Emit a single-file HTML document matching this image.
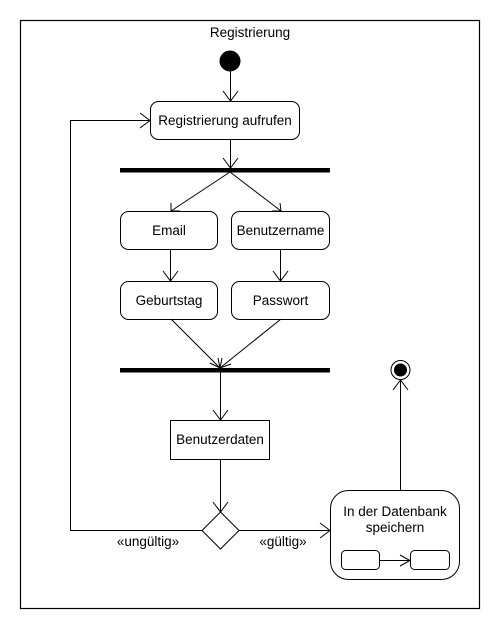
<!DOCTYPE html>
<html><head><meta charset="utf-8"><style>
html,body{margin:0;padding:0;background:#fff;}
svg{display:block;}
text{font-family:"Liberation Sans",sans-serif;font-size:13.5px;fill:#000;}
</style></head><body>
<svg width="500" height="630" viewBox="0 0 500 630" xmlns="http://www.w3.org/2000/svg">
<g fill="none" stroke="#000" stroke-width="1">
<rect x="20.5" y="20.5" width="459" height="588" stroke-width="1.2"/>
<circle cx="230" cy="61" r="10" fill="#000"/>
<line x1="230.5" y1="71" x2="230.5" y2="101"/>
<polyline points="223,91 230.5,101 238,91"/>
<rect x="150.5" y="101.5" width="149" height="38" rx="8"/>
<line x1="230.5" y1="140" x2="230.5" y2="168"/>
<polyline points="223,158 230.5,168 238,158"/>
<rect x="120" y="168" width="210" height="4.5" fill="#000" stroke="none"/>
<line x1="230" y1="172" x2="171" y2="211"/>
<polyline points="171,203 171,211 180,211"/>
<line x1="230" y1="172" x2="281" y2="211"/>
<polyline points="272,211 281,211 280,203"/>
<rect x="120.5" y="211.5" width="97" height="38" rx="8"/>
<rect x="231.5" y="211.5" width="98" height="38" rx="8"/>
<line x1="170.5" y1="250" x2="170.5" y2="281"/>
<polyline points="163,271 170.5,281 178,271"/>
<line x1="280.5" y1="250" x2="280.5" y2="281"/>
<polyline points="273,271 280.5,281 288,271"/>
<rect x="120.5" y="281.5" width="97" height="38" rx="8"/>
<rect x="231.5" y="281.5" width="98" height="38" rx="8"/>
<line x1="171" y1="319" x2="220" y2="368"/>
<line x1="281" y1="319" x2="220" y2="368"/>
<polyline points="210,363 220,368 218,358"/>
<polyline points="222,358 220,368 231,364"/>
<rect x="120" y="368" width="210" height="4.5" fill="#000" stroke="none"/>
<line x1="220.5" y1="372" x2="220.5" y2="420"/>
<polyline points="213,410 220.5,420 228,410"/>
<rect x="170.5" y="420.5" width="99" height="39"/>
<line x1="220.5" y1="460" x2="220.5" y2="512"/>
<polyline points="213,502 220.5,512 228,502"/>
<polygon points="220.5,512 239,530.5 220.5,549 202,530.5"/>
<polyline points="202,530.5 70.5,530.5 70.5,120.5 150,120.5"/>
<polyline points="140,113 150,120.5 140,128"/>
<line x1="239" y1="530.5" x2="330" y2="530.5"/>
<polyline points="320,523 330,530.5 320,538"/>
<rect x="330.5" y="490.5" width="129" height="89" rx="18"/>
<rect x="341.5" y="550.5" width="38" height="19" rx="4"/>
<rect x="410.5" y="550.5" width="39" height="19" rx="4"/>
<line x1="380" y1="560.5" x2="410" y2="560.5"/>
<polyline points="400,555 410,560.5 400,566"/>
<line x1="400.5" y1="490" x2="400.5" y2="380"/>
<polyline points="393,390 400.5,380 408,390"/>
<circle cx="400.5" cy="370" r="9.5" fill="#fff"/>
<circle cx="400.5" cy="370" r="6" fill="#000"/>
</g>
<g text-anchor="middle">
<text x="250" y="37">Registrierung</text>
<text x="225" y="125">Registrierung aufrufen</text>
<text x="169" y="235">Email</text>
<text x="280.5" y="235">Benutzername</text>
<text x="169" y="305">Geburtstag</text>
<text x="280.5" y="305">Passwort</text>
<text x="220" y="444">Benutzerdaten</text>
<text x="395" y="516">In der Datenbank</text>
<text x="395" y="532">speichern</text>
<text x="148" y="546">«ungültig»</text>
<text x="283" y="546">«gültig»</text>
</g>
</svg>
</body></html>
